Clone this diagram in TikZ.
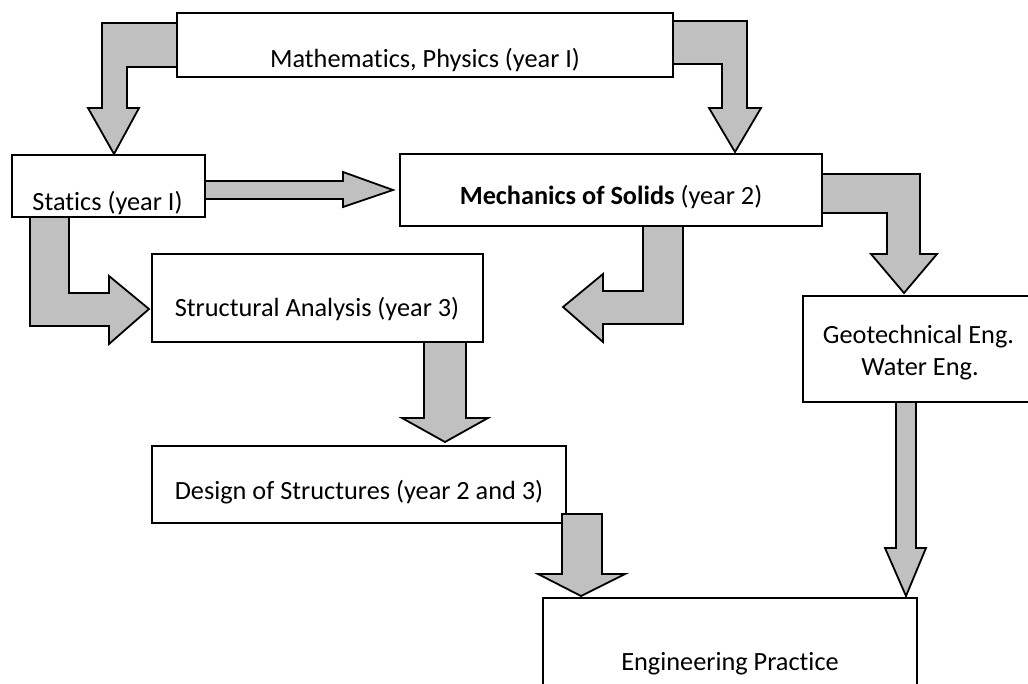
\documentclass[tikz,border=0pt]{standalone}
\usepackage{fontspec}
\setmainfont{Carlito}[Ligatures={NoCommon,NoRare,NoContextual},Contextuals=NoAlternate]
\begin{document}
\begin{tikzpicture}[x=1pt,y=-1pt,
  box/.style={draw=black,fill=white,line width=1.8pt,inner sep=0pt},
  lbl/.style={inner sep=0pt,anchor=base,font=\fontsize{26.3}{32}\selectfont},
  blockarrow/.style={draw=black,fill=arrowgray,line width=1.8pt,line join=miter}]
\definecolor{arrowgray}{RGB}{192,192,192}
\useasboundingbox (0,0) rectangle (1028,683);
\clip (0,0) rectangle (1028,683);
% boxes
\node[box,minimum width=496pt,minimum height=64pt] (math) at (425,45) {};
\node[box,minimum width=193pt,minimum height=62pt] (statics) at (108.5,186) {};
\node[box,minimum width=422pt,minimum height=72pt] (mech) at (611,190) {};
\node[box,minimum width=331pt,minimum height=88pt] (struct) at (317.5,298) {};
\node[box,minimum width=414pt,minimum height=77pt] (design) at (359,484.5) {};
\node[box,minimum width=232pt,minimum height=106pt] (geo) at (919,349) {};
\node[box,minimum width=374pt,minimum height=122pt] (eng) at (730,659) {};
% labels
\node[lbl] (mathT) at (425,67) {Mathematics, Physics (year I)};
\node[lbl] (staticsT) at (107.5,210) {Statics (year I)};
\node[lbl] (mechT) at (611,204) {\textbf{Mechanics of Solids} (year 2)};
\node[lbl] (structT) at (317,316) {Structural Analysis (year 3)};
\node[lbl] (designT) at (359,499) {Design of Structures (year 2 and 3)};
\node[lbl] (geoT1) at (918.5,343) {Geotechnical Eng.};
\node[lbl] (geoT2) at (920,375) {Water Eng.};
\node[lbl] (engT) at (730,670) {Engineering Practice};
% block arrows
% math -> statics
\draw[blockarrow] (177,23) -- (102,23) -- (102,108) -- (88,108) -- (114,154) -- (139,108) -- (127,108) -- (127,67) -- (177,67) -- cycle;
% math -> mech
\draw[blockarrow] (673,21) -- (747,21) -- (747,108) -- (761,108) -- (735,152) -- (709,108) -- (722,108) -- (722,64) -- (673,64) -- cycle;
% statics -> mech
\draw[blockarrow] (205,181) -- (343,181) -- (343,172) -- (393,190) -- (343,207) -- (343,199) -- (205,199) -- cycle;
% statics -> struct
\draw[blockarrow] (30,217) -- (69,217) -- (69,293) -- (109,293) -- (109,276) -- (149,309) -- (109,344) -- (109,326) -- (30,326) -- cycle;
% mech -> left
\draw[blockarrow] (643,226) -- (683,226) -- (683,324) -- (603,324) -- (603,342) -- (563,307) -- (603,274) -- (603,291) -- (643,291) -- cycle;
% mech -> geo
\draw[blockarrow] (822,174) -- (920,174) -- (920,254) -- (937,254) -- (904,293) -- (871,254) -- (887,254) -- (887,213) -- (822,213) -- cycle;
% struct -> design
\draw[blockarrow] (424,342) -- (466,342) -- (466,418) -- (488,418) -- (445,442) -- (402,418) -- (424,418) -- cycle;
% design -> eng
\draw[blockarrow] (562,514) -- (602,514) -- (602,574) -- (625,574) -- (581,596) -- (538,574) -- (562,574) -- cycle;
% geo -> eng
\draw[blockarrow] (896,402) -- (916,402) -- (916,548) -- (926,548) -- (906,596) -- (885,548) -- (896,548) -- cycle;
\end{tikzpicture}
\end{document}
